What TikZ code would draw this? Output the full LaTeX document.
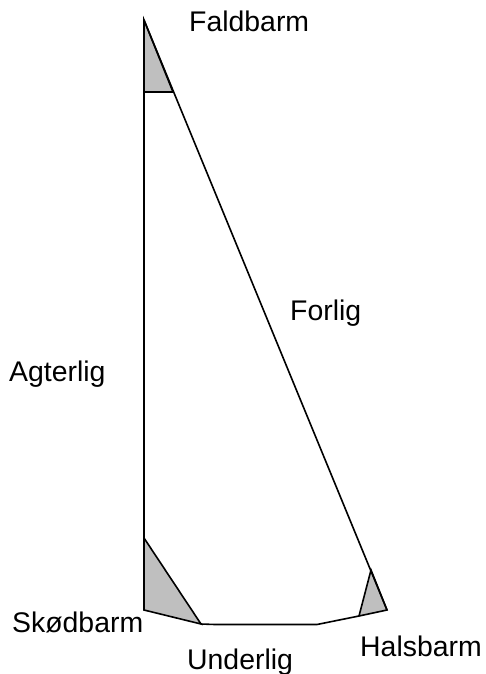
\documentclass[tikz,border=0pt]{standalone}
\usepackage{fontspec}
\setmainfont{Liberation Sans}
\tikzset{lbl/.style={inner sep=0pt,font=\fontsize{28.4}{32}\selectfont,text=black},
 patch/.style={fill=black!25,draw=black,line width=1.6pt,line join=miter},
 edge/.style={draw=black,line width=1.6pt}}
\begin{document}
\begin{tikzpicture}[x=1pt,y=-1pt]
\useasboundingbox (0,0) rectangle (485,674);
\coordinate (top) at (144,20);
\coordinate (tr) at (173,92);
\coordinate (tl) at (144,92);
\coordinate (sk1) at (144,538);
\coordinate (sk) at (144,610);
\coordinate (sk2) at (201,624);
\coordinate (u1) at (215,624.5);
\coordinate (u2) at (317,624.5);
\coordinate (h1) at (371,570);
\coordinate (h) at (387,610);
\coordinate (h2) at (359,616);
\draw[patch] (top)--(tr)--(tl)--cycle;
\draw[patch] (sk1)--(sk2)--(sk)--cycle;
\draw[patch] (h1)--(h)--(h2)--cycle;
\draw[edge] (top)--(h);
\draw[edge] (top)--(sk);
\draw[edge] (sk2)--(u1)--(u2)--(h2);
\node[lbl,anchor=base west] (n1) at (189,32) {Faldbarm};
\node[lbl,anchor=base west] (n2) at (290,320) {Forlig};
\node[lbl,anchor=base west] (n3) at (9,381) {Agterlig};
\node[lbl,anchor=base west] (n4) at (12,632) {Skødbarm};
\node[lbl,anchor=base west] (n5) at (187,669) {Underlig};
\node[lbl,anchor=base west] (n6) at (360,656) {Halsbarm};
\end{tikzpicture}
\end{document}
